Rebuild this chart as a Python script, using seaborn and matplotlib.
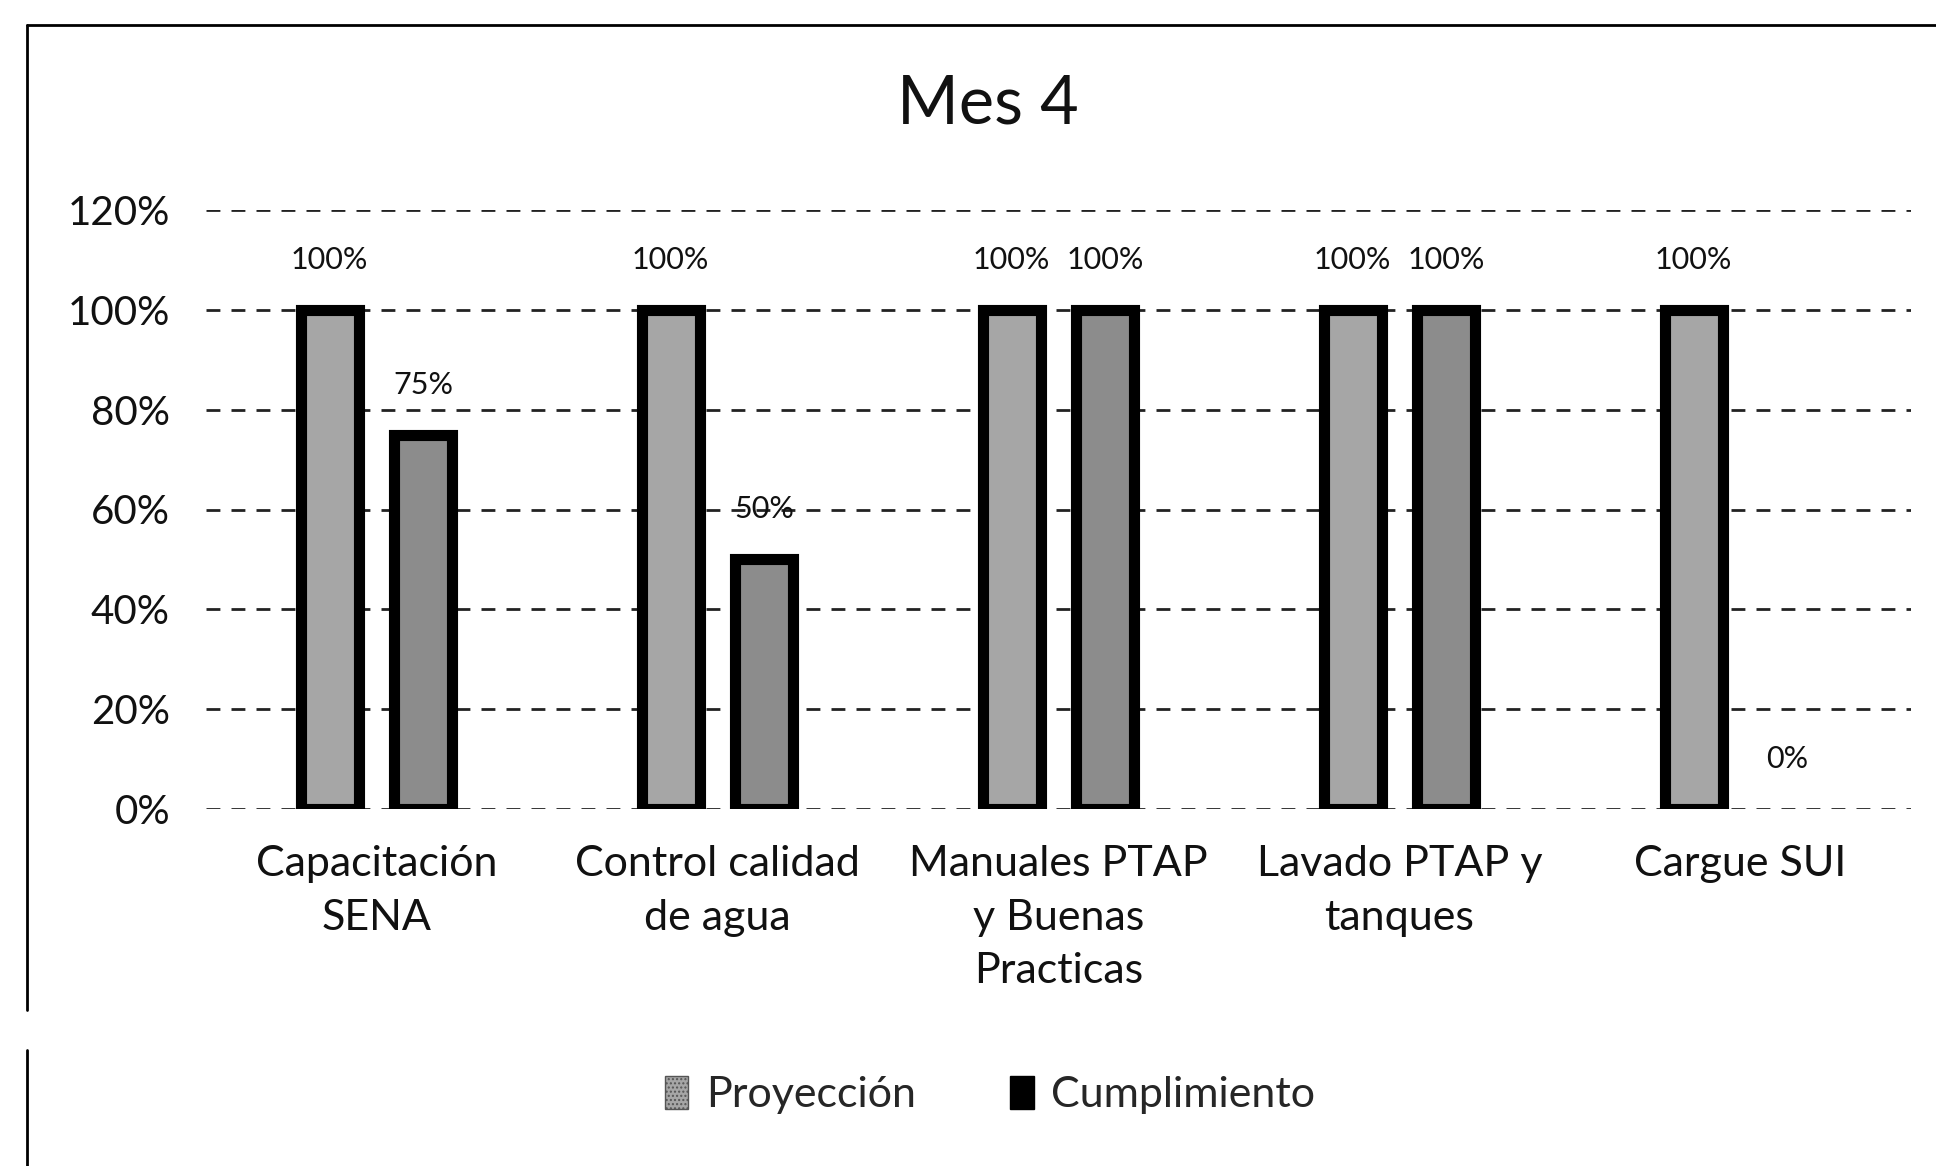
import matplotlib
matplotlib.use("Agg")
import matplotlib.pyplot as plt
from matplotlib.patches import Patch
from matplotlib.lines import Line2D
import seaborn as sns
import pandas as pd

categorias = ["Capacitación\nSENA", "Control calidad\nde agua", "Manuales PTAP\ny Buenas\nPracticas",
              "Lavado PTAP y\ntanques", "Cargue SUI"]
proyeccion = [100, 100, 100, 100, 100]
cumplimiento = [75, 50, 100, 100, 0]
series = ["Proyección", "Cumplimiento"]
yticks = [0, 20, 40, 60, 80, 100, 120]

df = pd.DataFrame({
    "cat": categorias * 2,
    "val": proyeccion + cumplimiento,
    "serie": [series[0]] * len(categorias) + [series[1]] * len(categorias),
})

sns.set_theme(style="white")
plt.rcParams["font.family"] = ["Lato", "DejaVu Sans"]

fig = plt.figure(figsize=(19.36, 11.66), dpi=100)
ax = fig.add_axes([206 / 1936, 1 - 809 / 1166, 1705 / 1936, (809 - 210) / 1166])

sns.barplot(data=df, x="cat", y="val", hue="serie", order=categorias, hue_order=series,
            palette={"Proyección": "#a6a6a6", "Cumplimiento": "#8c8c8c"},
            width=0.55, gap=0.38, edgecolor="black", linewidth=8, legend=False,
            errorbar=None, ax=ax, zorder=3)

# zero-height bars show no outline
for cont in ax.containers:
    for p in cont.patches:
        if p.get_height() == 0:
            p.set_linewidth(0)

for cont, vals in zip(ax.containers, [proyeccion, cumplimiento]):
    ax.bar_label(cont, labels=[f"{v}%" for v in vals], padding=26, fontsize=22, color="#111111")

ax.set_ylim(0, 120)
ax.set_xlim(-0.5, len(categorias) - 0.5)
ax.set_yticks(yticks)
ax.set_yticklabels([f"{t}%" for t in yticks], fontsize=29, color="#111111")
ax.tick_params(axis="y", length=0, pad=26)
ax.tick_params(axis="x", length=0, pad=26)
for lab in ax.get_xticklabels():
    lab.set_fontsize(31)
    lab.set_linespacing(1.5)
    lab.set_color("#111111")
ax.set_xlabel("")
ax.set_ylabel("")
ax.yaxis.grid(True, color="#222222", linestyle=(0, (5, 4)), linewidth=2, zorder=0)
ax.set_axisbelow(True)
for s in ax.spines.values():
    s.set_visible(False)

fig.text(988 / 1936, 1 - 105 / 1166, "Mes 4", ha="center", va="center", fontsize=48, color="#111111")

handles = [Patch(facecolor="#a6a6a6", edgecolor="#555555", hatch="...."),
           Patch(facecolor="black", edgecolor="black")]
fig.legend(handles, series, loc="center", bbox_to_anchor=(990 / 1936, 1 - 1095 / 1166), ncol=2,
           frameon=False, fontsize=31, handlelength=0.55, handleheight=0.8, columnspacing=2.2,
           handletextpad=0.4)

# chart frame (left and top borders)
fig.add_artist(Line2D([27 / 1936, 27 / 1936], [1 - 25 / 1166, 1 - 1010 / 1166],
                      transform=fig.transFigure, color="black", linewidth=2))
fig.add_artist(Line2D([27 / 1936, 27 / 1936], [1 - 1050 / 1166, 0],
                      transform=fig.transFigure, color="black", linewidth=2))
fig.add_artist(Line2D([27 / 1936, 1], [1 - 25 / 1166, 1 - 25 / 1166],
                      transform=fig.transFigure, color="black", linewidth=2))

fig.savefig("out.png", dpi=100)
